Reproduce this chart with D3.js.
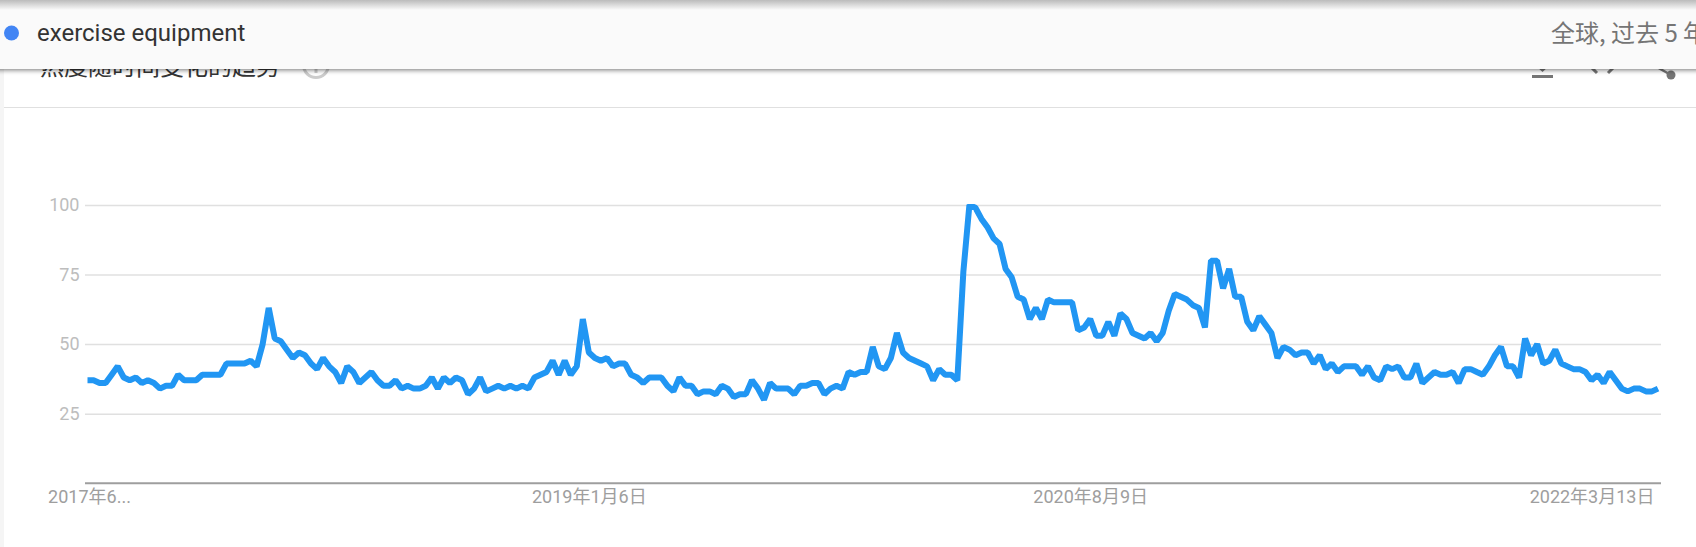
<!DOCTYPE html>
<html><head><meta charset="utf-8">
<script src="https://cdn.jsdelivr.net/npm/d3@7/dist/d3.min.js"></script>
<style>html,body{margin:0;padding:0;background:#fff;overflow:hidden}svg{display:block}</style>
</head><body><div id="c"></div>
<script>
const term = "exercise equipment";
const scopeLabel = "全球, 过去 5 年";
const cardTitle = "热度随时间变化的趋势";
const startWeek = "2017-06-04";
const values = [37,37,36,36,39,42,38,37,38,36,37,36,34,35,35,39,37,37,37,39,39,39,39,43,43,43,43,44,42,50,
63,52,51,48,45,47,46,43,41,45,42,40,36,42,40,36,38,40,37,35,35,37,34,35,34,34,35,38,34,38,36,38,37,32,34,38,
33,34,35,34,35,34,35,34,38,39,40,44,39,44,39,42,59,47,45,44,45,42,43,43,39,38,36,38,38,38,35,33,38,35,35,32,33,33,32,35,34,31,32,32,37,34,30,
36,34,34,34,32,35,35,36,36,32,34,35,34,40,39,40,40,49,42,41,45,54,47,45,44,43,42,37,41,39,39,37,76,100,99,95,92,88,86,77,74,67,66,59,63,59,66,65,65,65,65,55,56,59,53,53,58,53,61,59,54,53,52,54,51,54,62,68,67,66,64,63,56,80,80,70,77,67,67,58,55,60,57,54,45,49,48,46,47,47,43,46,41,43,40,42,42,42,39,42,38,37,42,41,42,38,38,43,36,38,40,39,39,40,36,41,41,40,39,42,46,49,42,42,38,52,46,50,43,44,48,43,42,41,41,40,37,39,36,40,37,34,33,34,34,33,33,34];
const yTicks = [25,50,75,100];
const xTickWeeks = ["2017-06-04","2019-01-06","2020-08-09","2022-03-13"];
const xTickLabels = ["2017年6...","2019年1月6日","2020年8月9日","2022年3月13日"];

const W=1696,H=547;
const svg=d3.select("#c").append("svg").attr("width",W).attr("height",H);
const dates=values.map((_,i)=>d3.utcWeek.offset(new Date(startWeek+"T00:00:00Z"),i));
const x=d3.scaleUtc().domain([dates[0],dates[dates.length-1]]).range([87.5,1658]);
const y=d3.scaleLinear().domain([0,100]).range([483.2,205]);
const left=85,right=1661;

const defs=svg.append("defs");
const f=defs.append("filter").attr("id","sh").attr("x","-5%").attr("y","-30%").attr("width","110%").attr("height","160%");
f.append("feDropShadow").attr("dx",0).attr("dy",1).attr("stdDeviation",2.5).attr("flood-color","#000").attr("flood-opacity",0.55);
defs.append("clipPath").attr("id","plot").append("rect").attr("x",left).attr("y",204).attr("width",right-left+4).attr("height",285);

// card chrome
svg.append("rect").attr("width",4).attr("height",H).attr("fill","#f5f5f5");
svg.append("line").attr("x1",4).attr("x2",W).attr("y1",107.5).attr("y2",107.5).attr("stroke","#e0e0e0").attr("stroke-width",1);
svg.append("text").attr("x",40).attr("y",75).attr("font-family","'Noto Sans CJK SC'").attr("font-size",24).attr("fill","#333").text(cardTitle);
svg.append("circle").attr("cx",316).attr("cy",65).attr("r",12.5).attr("fill","none").attr("stroke","#ccc").attr("stroke-width",3);
svg.append("rect").attr("x",314.5).attr("y",69).attr("width",3).attr("height",4).attr("fill","#ccc");
// icons
const ic=svg.append("g");
ic.append("rect").attr("x",1532).attr("y",75).attr("width",21).attr("height",3).attr("fill","#757575");
ic.append("path").attr("d","M1536 66H1549L1542.5 72Z").attr("fill","#757575");
ic.append("path").attr("d","M1590 66L1597 73M1615 66L1608 73").attr("stroke","#757575").attr("stroke-width",3).attr("fill","none");
ic.append("path").attr("d","M1655 66L1671 75").attr("stroke","#757575").attr("stroke-width",2.5);
ic.append("circle").attr("cx",1671).attr("cy",75).attr("r",4.5).attr("fill","#757575");

// y axis with gridlines
const gy=svg.append("g").attr("transform",`translate(${left},0)`)
 .call(d3.axisLeft(y).tickValues(yTicks).tickSize(-(right-left)).tickPadding(2));
gy.select(".domain").remove();
gy.selectAll("line").attr("stroke","#e0e0e0").attr("stroke-width",1.5);
gy.selectAll("text").attr("font-family","Roboto").attr("font-size",18).attr("fill","#bdbdbd").attr("dx",-3.5);

// x axis
const gx=svg.append("g").attr("transform",`translate(0,${y(0)})`)
 .call(d3.axisBottom(x).tickSize(0).tickValues(xTickWeeks.map(d=>new Date(d+"T00:00:00Z")))
   .tickFormat((d,i)=>xTickLabels[i]));
gx.select(".domain").attr("d",`M${left},0H${right}`).attr("stroke","#9e9e9e").attr("stroke-width",2);
gx.selectAll("text").attr("font-family","Roboto,'Noto Sans CJK SC'").attr("font-size",18).attr("fill","#9e9e9e").attr("y",20).attr("dy",0)
  .attr("dx",(d,i)=>i===0?1.5:0);

// line
svg.append("path").datum(values).attr("clip-path","url(#plot)")
 .attr("fill","none").attr("stroke","#2196f3").attr("stroke-width",6).attr("stroke-linejoin","bevel")
 .attr("d",d3.line().x((d,i)=>x(dates[i])).y(d=>y(d)));

// sticky legend bar
svg.append("rect").attr("x",-10).attr("y",-6).attr("width",W+20).attr("height",75).attr("fill","#fafafa").attr("filter","url(#sh)");
const tg=defs.append("linearGradient").attr("id","top").attr("x1",0).attr("x2",0).attr("y1",0).attr("y2",1);
tg.append("stop").attr("offset",0).attr("stop-color","#bbb");
tg.append("stop").attr("offset",1).attr("stop-color","#fafafa");
svg.append("rect").attr("width",W).attr("height",10).attr("fill","url(#top)");
svg.append("circle").attr("cx",11.5).attr("cy",33).attr("r",7.5).attr("fill","#4285f4");
svg.append("text").attr("x",37).attr("y",41).attr("font-family","Roboto").attr("font-size",24).attr("fill","#333").text(term);
svg.append("text").attr("x",1551).attr("y",42).attr("font-family","'Noto Sans CJK SC'").attr("font-size",24).attr("fill","#757575").text(scopeLabel);
</script></body></html>
